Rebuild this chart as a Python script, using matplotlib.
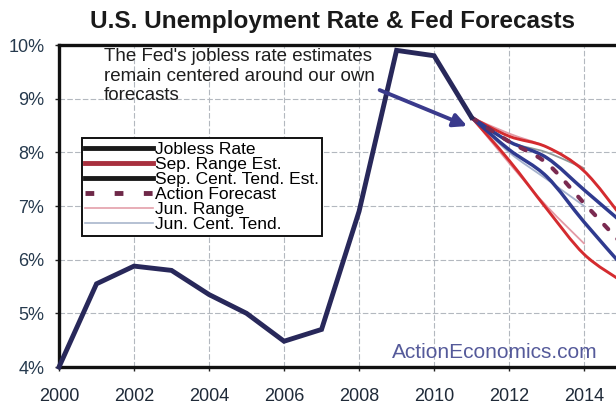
import numpy as np
import matplotlib
matplotlib.use("Agg")
import matplotlib.pyplot as plt
from matplotlib.path import Path
from matplotlib.patches import PathPatch
from matplotlib.lines import Line2D
from matplotlib.ticker import FuncFormatter

plt.rcParams['font.family'] = ['Liberation Sans', 'DejaVu Sans']

# Unemployment rate history (Q4 readings, %)
years = [2000, 2001, 2002, 2003, 2004, 2005, 2006, 2007, 2008, 2009, 2010, 2011]
jobless = [4.0, 5.55, 5.88, 5.8, 5.35, 5.0, 4.48, 4.7, 6.9, 9.9, 9.8, 8.65]

# September FOMC projections
sep_years = [2011, 2012, 2013, 2014, 2015]
sep_range_hi = [8.65, 8.3, 8.1, 7.65, 6.8]
sep_range_lo = [8.65, 7.85, 6.95, 6.1, 5.6]
sep_ct_hi = [8.65, 8.2, 7.9, 7.3, 6.7]
sep_ct_lo = [8.65, 8.05, 7.55, 6.7, 5.9]

# Action Economics forecast
action_years = [2011, 2012, 2013, 2014, 2015]
action_fc = [8.65, 8.2, 7.8, 7.05, 6.3]

# June FOMC projections
jun_years = [2011, 2012, 2013, 2014]
jun_range_hi = [8.65, 8.35, 8.1, 7.7]
jun_range_lo = [8.65, 7.8, 7.0, 6.3]
jun_ct_hi = [8.65, 8.2, 8.0, 7.7]
jun_ct_lo = [8.65, 8.0, 7.5, 7.0]

x_ticks = [2000, 2002, 2004, 2006, 2008, 2010, 2012, 2014]
y_ticks = [4, 5, 6, 7, 8, 9, 10]


def smooth_path(xs, ys):
    """Catmull-Rom style smoothed path through the points, as cubic Beziers."""
    p = np.column_stack([xs, ys]).astype(float)
    n = len(p)
    verts = [p[0]]
    codes = [Path.MOVETO]
    for i in range(n - 1):
        p0 = p[i - 1] if i > 0 else p[i]
        p1 = p[i]
        p2 = p[i + 1]
        p3 = p[i + 2] if i + 2 < n else p[i + 1]
        c1 = p1 + (p2 - p0) / 6.0
        c2 = p2 - (p3 - p1) / 6.0
        verts += [c1, c2, p2]
        codes += [Path.CURVE4] * 3
    return Path(verts, codes)


def smooth_line(ax, xs, ys, **kw):
    patch = PathPatch(smooth_path(xs, ys), fill=False, transform=ax.transData,
                      capstyle='round', joinstyle='round', **kw)
    ax.add_patch(patch)
    return patch


fig = plt.figure(figsize=(6.16, 4.05), dpi=100)
ax = fig.add_axes([59 / 616, 1 - 367 / 405, 557 / 616, 322 / 405])
ax.set_xlim(2000, 2014.85)
ax.set_ylim(4, 10)

# grid
ax.set_xticks(x_ticks)
ax.set_yticks(y_ticks)
ax.grid(True, color='#b3b8bf', linewidth=0.8, linestyle=(0, (5, 2)))
ax.set_axisbelow(True)

# history
ax.plot(years, jobless, color='#28285a', linewidth=3.5, solid_joinstyle='miter',
        zorder=6, clip_on=False)

# June projections (thin)
smooth_line(ax, jun_years, jun_range_hi, edgecolor='#e39aa6', linewidth=1.3, zorder=3)
smooth_line(ax, jun_years, jun_range_lo, edgecolor='#e39aa6', linewidth=1.3, zorder=3)
smooth_line(ax, jun_years, jun_ct_hi, edgecolor='#8f9a9a', linewidth=1.3, zorder=3)
smooth_line(ax, jun_years, jun_ct_lo, edgecolor='#a5b2cc', linewidth=1.3, zorder=3)

# September projections
smooth_line(ax, sep_years, sep_range_hi, edgecolor='#d42b2f', linewidth=2.1, zorder=4)
smooth_line(ax, sep_years, sep_range_lo, edgecolor='#d42b2f', linewidth=2.1, zorder=4)
smooth_line(ax, sep_years, sep_ct_hi, edgecolor='#2f3a8f', linewidth=2.5, zorder=4)
smooth_line(ax, sep_years, sep_ct_lo, edgecolor='#2f3a8f', linewidth=2.5, zorder=4)

# Action Economics forecast
smooth_line(ax, action_years, action_fc, edgecolor='#7a2a50', linewidth=3.0,
            linestyle=(0, (1.4, 3.2)), zorder=5)

# axes styling
for side in ('top', 'left', 'bottom'):
    ax.spines[side].set_linewidth(2.4)
    ax.spines[side].set_color('#111111')
ax.spines['right'].set_visible(False)
ax.tick_params(axis='both', direction='out', length=3, width=1, color='#222222')
ax.tick_params(axis='y', pad=7.5, labelsize=13, labelcolor='#263a4e')
ax.tick_params(axis='x', pad=12, labelsize=13, labelcolor='#1f2a38')
ax.yaxis.set_major_formatter(FuncFormatter(lambda v, _: f"{int(v)}%"))

# title
fig.text(0.54, 0.931, "U.S. Unemployment Rate & Fed Forecasts", ha='center',
         va='baseline', fontsize=17.5, fontweight='bold', color='#1a1a1a')

# commentary
fig.text(104 / 616, 1 - 48 / 405,
         "The Fed's jobless rate estimates\nremain centered around our own\nforecasts",
         ha='left', va='top', fontsize=13.5, color='#1e1e1e', linespacing=1.2,
         zorder=8)

ax.annotate("", xy=(2010.95, 8.47), xytext=(2008.48, 9.18),
            arrowprops=dict(arrowstyle='-|>,head_length=0.8,head_width=0.4',
                            color='#3a3a8c', linewidth=2.8),
            zorder=7)

# source
fig.text(392 / 616, 1 - 358 / 405, "ActionEconomics.com", ha='left', va='baseline',
         fontsize=15, color='#555a9a')

# legend
handles = [
    Line2D([], [], color='#1a1a1a', linewidth=3.5),
    Line2D([], [], color='#a8303e', linewidth=3.5),
    Line2D([], [], color='#1a1a1a', linewidth=3.5),
    Line2D([], [], color='#6e2848', linewidth=3.5, linestyle=(0, (1.8, 4.2))),
    Line2D([], [], color='#e4a0aa', linewidth=1.2),
    Line2D([], [], color='#a9b6cc', linewidth=1.2),
]
labels = ["Jobless Rate", "Sep. Range Est.", "Sep. Cent. Tend. Est.",
          "Action Forecast", "Jun. Range", "Jun. Cent. Tend."]
leg = ax.legend(handles, labels, loc='upper left', bbox_to_anchor=(0.041, 0.711),
                borderaxespad=0, fontsize=12.5, labelspacing=0.0, handlelength=3.9,
                handletextpad=0.1, borderpad=0.2, fancybox=False, framealpha=1,
                edgecolor='#111111')
leg.get_frame().set_linewidth(1.4)
leg.set_zorder(9)

fig.savefig("out.png", dpi=100)
